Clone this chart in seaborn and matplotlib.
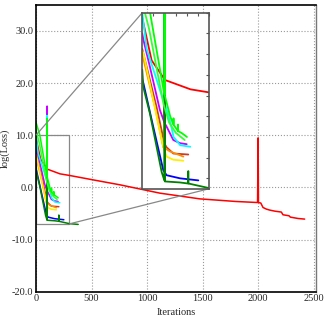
import matplotlib
matplotlib.use("Agg")
import matplotlib.pyplot as plt
import seaborn as sns
from matplotlib.ticker import FormatStrFormatter, MultipleLocator
from mpl_toolkits.axes_grid1.inset_locator import mark_inset

# loss curves (iterations, log loss)
red_x = [0, 42, 102, 216, 300, 500, 755, 1115, 1475, 1800, 1995, 2000, 2003,
         2024, 2044, 2074, 2104, 2149, 2209, 2224, 2278, 2290, 2359, 2419]
red_y = [9.5, 5.4, 3.5, 2.6, 2.3, 1.5, 0.5, -1.1, -2.2, -2.7, -2.9, 9.5, -2.9,
         -3.0, -3.85, -4.16, -4.35, -4.55, -4.73, -5.25, -5.44, -5.7, -5.96, -6.08]

brown_x = [0, 64, 99, 100, 101, 109, 139, 206]
brown_y = [6.5, 0.9, -2.6, 8.0, -2.7, -3.0, -3.6, -3.7]

orange_x = [0, 60, 94, 124, 184]
orange_y = [6.0, 0.6, -3.0, -3.4, -3.9]

yellow_x = [0, 5, 49, 87, 99, 100, 101, 109, 139, 184]
yellow_y = [6.3, 6.1, 1.6, -2.3, -3.3, 8.0, -3.4, -3.9, -4.2, -4.3]

magenta_x = [0, 5, 34, 79, 99, 100, 101, 109, 139, 169, 199]
magenta_y = [8.0, 7.4, 4.8, 0.6, -0.6, 15.6, -0.7, -1.0, -2.3, -2.6, -2.7]

cyan_x = [0, 20, 99, 100, 101, 110, 130, 140, 170, 215]
cyan_y = [10.0, 6.5, 1.2, 13.8, 1.1, 0.6, -1.0, -2.0, -2.8, -2.95]

blue_x = [0, 5, 49, 94, 109, 169, 251]
blue_y = [3.5, 3.2, -1.0, -5.2, -5.7, -6.0, -6.2]

dkgreen_x = [0, 5, 34, 87, 99, 100, 101, 169, 205, 206, 207, 300, 380]
dkgreen_y = [4.5, 2.8, 0.3, -5.4, -6.2, 13.0, -6.3, -6.4, -6.5, -5.3, -6.5, -6.95, -7.1]

lime2_x = [0, 30, 95, 120, 150, 190]
lime2_y = [11.0, 8.5, 1.2, -0.6, -1.6, -2.3]

lime_x = [0, 35, 99, 100, 101, 125, 139, 140, 141, 159, 160, 161, 175, 200]
lime_y = [12.5, 10.0, 2.1, 13.2, 2.0, 0.0, -0.8, -0.2, -0.85, -1.4, -0.8, -1.45, -1.6, -2.0]

curves = [
    (red_x, red_y, "#ff0000"),
    (brown_x, brown_y, "#c83c28"),
    (orange_x, orange_y, "#ff8c00"),
    (yellow_x, yellow_y, "#ffee00"),
    (magenta_x, magenta_y, "#c800ff"),
    (cyan_x, cyan_y, "#00ffff"),
    (blue_x, blue_y, "#0000ff"),
    (dkgreen_x, dkgreen_y, "#008000"),
    (lime2_x, lime2_y, "#33ff33"),
    (lime_x, lime_y, "#00ff00"),
]

sns.set_style("white")
plt.rcParams["font.family"] = ["Liberation Serif", "DejaVu Serif"]

fig = plt.figure(figsize=(3.27, 3.27), dpi=100)
ax = fig.add_axes([0.110, 0.108, 0.856, 0.877])

for xs, ys, c in curves:
    sns.lineplot(x=xs, y=ys, color=c, lw=1.1, estimator=None, sort=False, ax=ax)

ax.set_xlim(0, 2520)
ax.set_ylim(-20, 35)
ax.xaxis.set_major_locator(MultipleLocator(500))
ax.yaxis.set_major_locator(MultipleLocator(10))
ax.yaxis.set_major_formatter(FormatStrFormatter("%.1f"))
ax.grid(True, ls=":", color="#999999", lw=0.8)
ax.tick_params(direction="in", length=2, labelsize=7.5, pad=2)
ax.set_xlabel("Iterations", fontsize=7.5, labelpad=3)
ax.set_ylabel("log(Loss)", fontsize=7.5, labelpad=1)
for s in ["left", "bottom", "top"]:
    ax.spines[s].set_color("black")
    ax.spines[s].set_linewidth(1.2)
ax.spines["right"].set_color("#777777")
ax.spines["right"].set_linewidth(1.0)

# zoomed view of the first 300 iterations
axins = fig.add_axes([0.435, 0.423, 0.205, 0.538])
for xs, ys, c in curves:
    sns.lineplot(x=xs, y=ys, color=c, lw=1.3, estimator=None, sort=False, ax=axins)
axins.set_xlim(0, 300)
axins.set_ylim(-7, 10)
axins.xaxis.set_major_locator(MultipleLocator(50))
axins.yaxis.set_major_locator(MultipleLocator(2))
axins.tick_params(direction="in", length=2, top=True, right=True,
                  labelbottom=False, labelleft=False, color="#555555")
for s in axins.spines.values():
    s.set_color("#555555")
    s.set_linewidth(1.2)

mark_inset(ax, axins, loc1=2, loc2=4, fc="none", ec="#888888", lw=0.9)

fig.savefig("out.png", dpi=100)
plt.close(fig)
